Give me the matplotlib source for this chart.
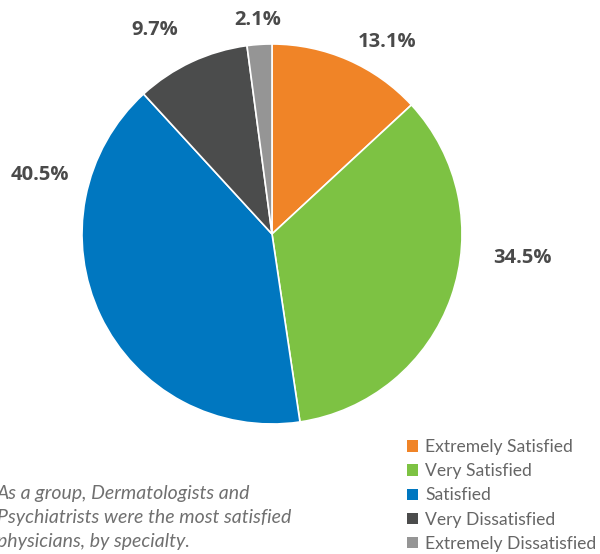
import matplotlib.pyplot as plt

categories = ['Extremely Satisfied', 'Very Satisfied', 'Satisfied',
              'Very Dissatisfied', 'Extremely Dissatisfied']
shares = [13.1, 34.5, 40.5, 9.7, 2.1]
colors = ['#F08427', '#7DC243', '#0077C0', '#4B4C4C', '#959595']
# label positions in pixels (from top-left)
label_pos = [(387, 42), (522, 258), (40, 175), (155, 30), (258, 20)]
caption = ['As a group, Dermatologists and',
           'Psychiatrists were the most satisfied',
           'physicians, by specialty.']

W, H = 600, 554
fig = plt.figure(figsize=(W / 100, H / 100), dpi=100)
ax = fig.add_axes([0, 0, 1, 1])

wedges, _ = ax.pie(shares, colors=colors, startangle=90, counterclock=False,
                   center=(272, H - 234), radius=190,
                   wedgeprops=dict(edgecolor='white', linewidth=1.2))
ax.set_xlim(0, W)
ax.set_ylim(0, H)
ax.set_aspect('equal')
ax.axis('off')

for v, (x, y) in zip(shares, label_pos):
    ax.text(x, H - y, f'{v}%', ha='center', va='center', fontsize=14.5,
            fontweight='bold', color='#4A4A4A', family='Open Sans')

for i, line in enumerate(caption):
    ax.text(-3, H - (493 + i * 24.5), line, ha='left', va='center',
            fontsize=14, style='italic', color='#707070', family='Lato')

leg = ax.legend(wedges, categories, loc='upper left',
                bbox_to_anchor=(407 / W, 1 - 439 / H), frameon=False,
                handlelength=0.62, handleheight=0.62, handletextpad=0.42,
                labelspacing=0.47, borderpad=0, borderaxespad=0,
                prop=dict(family='Lato', size=12.6))
for t in leg.get_texts():
    t.set_color('#666666')
for h in leg.legend_handles:
    h.set_edgecolor('none')

fig.savefig('out.png', dpi=100)
